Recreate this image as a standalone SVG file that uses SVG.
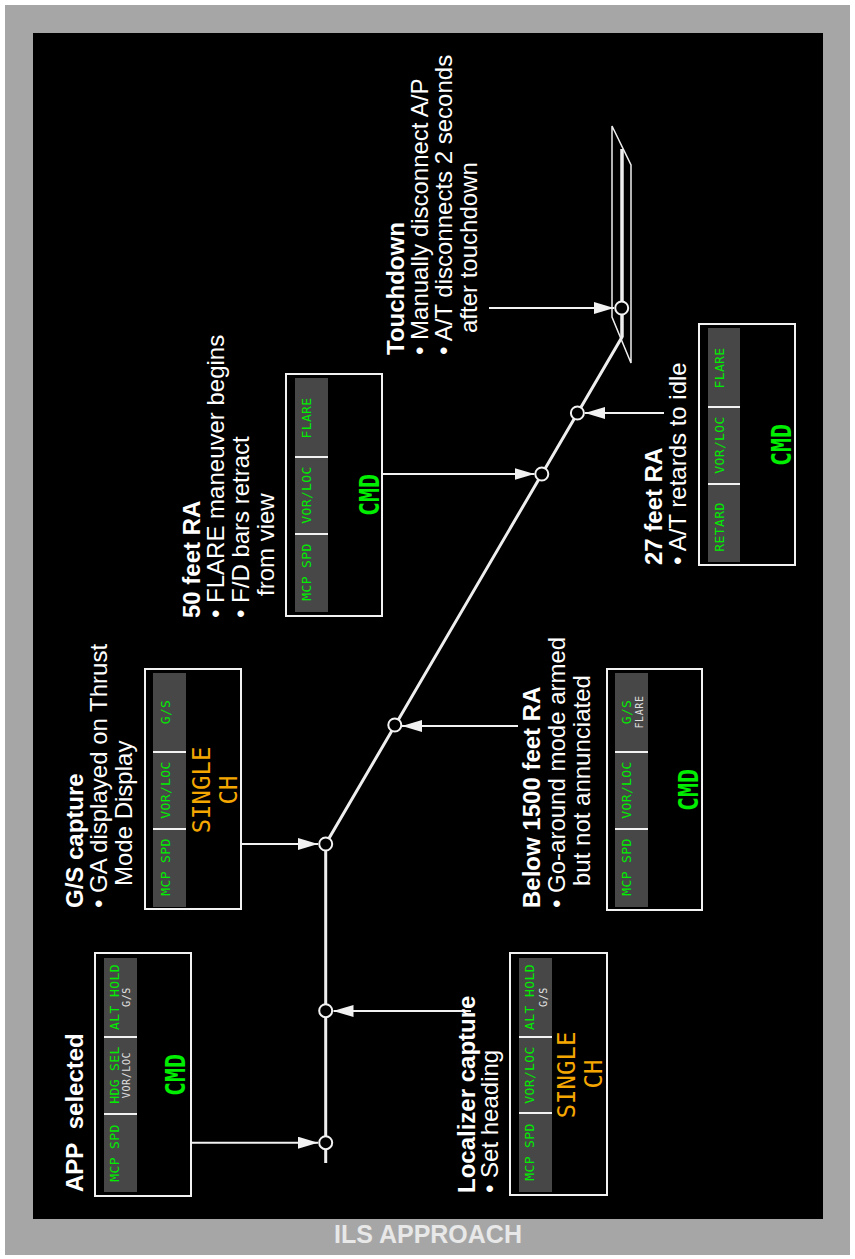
<svg xmlns="http://www.w3.org/2000/svg" width="855" height="1259" viewBox="0 0 855 1259">
<style>
.lbl{font-family:"Liberation Sans",Arial,sans-serif;font-size:24px;fill:#ffffff}
.b{font-weight:bold}
.box{fill:#000;stroke:#f2f2f2;stroke-width:2}
.pnl{fill:#474747}
.dv{stroke:#f2f2f2;stroke-width:2}
.g{font-family:"DejaVu Sans Mono",monospace;font-size:13px;fill:#00ee00;text-anchor:middle;letter-spacing:0.4px}
.w{font-family:"DejaVu Sans Mono",monospace;font-size:10px;fill:#e0e0e0;text-anchor:middle;letter-spacing:0.6px}
.cmd{font-family:"DejaVu Sans Mono",monospace;font-weight:bold;font-size:27px;fill:#00ee00;text-anchor:middle}
.sg{font-family:"DejaVu Sans Mono",monospace;font-size:24px;fill:#f5a700;text-anchor:middle}
.conn{stroke:#f2f2f2;stroke-width:2;fill:none}
.path{stroke:#eeeeee;stroke-width:3;fill:none}
.node{fill:#000;stroke:#f2f2f2;stroke-width:2}
</style>
<defs>
<marker id="ah" markerUnits="userSpaceOnUse" markerWidth="20" markerHeight="12" refX="20" refY="6" orient="auto">
<path d="M0,0 L20,6 L0,12 z" fill="#f2f2f2"/>
</marker>
</defs>
<rect x="0" y="0" width="855" height="1259" fill="#ffffff"/>
<rect x="5" y="5" width="845" height="1250" fill="#a6a6a6"/>
<rect x="33" y="33" width="790" height="1186" fill="#000000"/>
<text x="428" y="1243" font-family="'Liberation Sans',Arial,sans-serif" font-size="25" font-weight="bold" fill="#e8e8e8" text-anchor="middle">ILS APPROACH</text>

<g id="connectors">
<polyline class="path" points="325.7,1163 325.7,844 622,337 622,149"/>
<polygon points="612,126 631,165 631,363 612,317" fill="none" stroke="#eeeeee" stroke-width="1.5"/>
<line class="path" x1="622" y1="337" x2="622" y2="149" stroke-width="3.5"/>
<line class="conn" x1="191" y1="1142.7" x2="318" y2="1142.7" marker-end="url(#ah)"/>
<line class="conn" x1="471" y1="1011" x2="333.5" y2="1011" marker-end="url(#ah)"/>
<line class="conn" x1="241" y1="844" x2="318" y2="844" marker-end="url(#ah)"/>
<line class="conn" x1="518" y1="726" x2="402" y2="726" marker-end="url(#ah)"/>
<line class="conn" x1="382" y1="474" x2="534.5" y2="474" marker-end="url(#ah)"/>
<line class="conn" x1="664" y1="413" x2="585" y2="413" marker-end="url(#ah)"/>
<line class="conn" x1="489" y1="308" x2="614" y2="308" marker-end="url(#ah)"/>
</g>

<g id="points">
<circle class="node" cx="325.7" cy="1142.7" r="6.5"/>
<circle class="node" cx="325.7" cy="1010.7" r="6.5"/>
<circle class="node" cx="325.7" cy="844" r="6.5"/>
<circle class="node" cx="394.8" cy="725" r="6.5"/>
<circle class="node" cx="541.8" cy="474" r="6.5"/>
<circle class="node" cx="577.4" cy="413" r="6.5"/>
<circle class="node" cx="621.7" cy="308" r="6.5"/>
</g>

<g id="app-selected">
<text class="lbl b" transform="translate(83,1192) rotate(-90)">APP&#160; selected</text>
<rect class="box" x="95" y="953" width="96" height="243"/>
<rect class="pnl" x="104" y="958" width="33" height="234"/>
<line class="dv" x1="104" y1="1037" x2="137" y2="1037"/>
<line class="dv" x1="104" y1="1114" x2="137" y2="1114"/>
<text class="g" transform="translate(119,1153) rotate(-90)">MCP SPD</text>
<text class="g" transform="translate(119,1075) rotate(-90)">HDG SEL</text>
<text class="w" transform="translate(130,1075) rotate(-90)">VOR/LOC</text>
<text class="g" transform="translate(119,997) rotate(-90)">ALT HOLD</text>
<text class="w" transform="translate(130,997) rotate(-90)">G/S</text>
<text class="cmd" transform="translate(185,1075) rotate(-90)" textLength="42" lengthAdjust="spacingAndGlyphs">CMD</text>
</g>

<g id="localizer-capture">
<text class="lbl b" transform="translate(475,1193) rotate(-90)">Localizer capture</text>
<text class="lbl" transform="translate(498,1193) rotate(-90)">• Set heading</text>
<rect class="box" x="510" y="953" width="97" height="242"/>
<rect class="pnl" x="519" y="958" width="33" height="234"/>
<line class="dv" x1="519" y1="1037" x2="552" y2="1037"/>
<line class="dv" x1="519" y1="1113" x2="552" y2="1113"/>
<text class="g" transform="translate(534,1152) rotate(-90)">MCP SPD</text>
<text class="g" transform="translate(534,1075) rotate(-90)">VOR/LOC</text>
<text class="g" transform="translate(534,997) rotate(-90)">ALT HOLD</text>
<text class="w" transform="translate(546.5,997) rotate(-90)">G/S</text>
<text class="sg" transform="translate(575,1075) rotate(-90)">SINGLE</text>
<text class="sg" transform="translate(601.5,1074) rotate(-90)">CH</text>
</g>

<g id="gs-capture">
<text class="lbl b" transform="translate(83,908) rotate(-90)">G/S capture</text>
<text class="lbl" transform="translate(107,908) rotate(-90)">• GA displayed on Thrust</text>
<text class="lbl" transform="translate(132,886) rotate(-90)">Mode Display</text>
<rect class="box" x="145" y="669" width="96" height="240"/>
<rect class="pnl" x="153" y="673" width="33" height="234"/>
<line class="dv" x1="153" y1="752" x2="186" y2="752"/>
<line class="dv" x1="153" y1="829" x2="186" y2="829"/>
<text class="g" transform="translate(170,867) rotate(-90)">MCP SPD</text>
<text class="g" transform="translate(170,790) rotate(-90)">VOR/LOC</text>
<text class="g" transform="translate(170,712) rotate(-90)">G/S</text>
<text class="sg" transform="translate(210,790) rotate(-90)">SINGLE</text>
<text class="sg" transform="translate(237,790) rotate(-90)">CH</text>
</g>

<g id="below-1500">
<text class="lbl b" transform="translate(540,908) rotate(-90)">Below 1500 feet RA</text>
<text class="lbl" transform="translate(565,908) rotate(-90)">• Go-around mode armed</text>
<text class="lbl" transform="translate(590,886) rotate(-90)">but not annunciated</text>
<rect class="box" x="607" y="669" width="95" height="241"/>
<rect class="pnl" x="615" y="673" width="33" height="234"/>
<line class="dv" x1="615" y1="752" x2="648" y2="752"/>
<line class="dv" x1="615" y1="829" x2="648" y2="829"/>
<text class="g" transform="translate(630.5,867) rotate(-90)">MCP SPD</text>
<text class="g" transform="translate(630.5,790) rotate(-90)">VOR/LOC</text>
<text class="g" transform="translate(630.5,712) rotate(-90)">G/S</text>
<text class="w" transform="translate(643,712) rotate(-90)">FLARE</text>
<text class="cmd" transform="translate(698,790) rotate(-90)" textLength="42" lengthAdjust="spacingAndGlyphs">CMD</text>
</g>

<g id="fifty-feet">
<text class="lbl b" transform="translate(200,618) rotate(-90)">50 feet RA</text>
<text class="lbl" transform="translate(224,618) rotate(-90)">• FLARE maneuver begins</text>
<text class="lbl" transform="translate(249,618) rotate(-90)">• F/D bars retract</text>
<text class="lbl" transform="translate(274,596) rotate(-90)">from view</text>
<rect class="box" x="286" y="374" width="96" height="242"/>
<rect class="pnl" x="295" y="378" width="33" height="234"/>
<line class="dv" x1="295" y1="457" x2="328" y2="457"/>
<line class="dv" x1="295" y1="534" x2="328" y2="534"/>
<text class="g" transform="translate(310.5,572) rotate(-90)">MCP SPD</text>
<text class="g" transform="translate(310.5,495) rotate(-90)">VOR/LOC</text>
<text class="g" transform="translate(310.5,418) rotate(-90)">FLARE</text>
<text class="cmd" transform="translate(379,495) rotate(-90)" textLength="42" lengthAdjust="spacingAndGlyphs">CMD</text>
</g>

<g id="twenty-seven-feet">
<text class="lbl b" transform="translate(662,565) rotate(-90)">27 feet RA</text>
<text class="lbl" transform="translate(686,565) rotate(-90)">• A/T retards to idle</text>
<rect class="box" x="699" y="324" width="96" height="241"/>
<rect class="pnl" x="708" y="328" width="32" height="234"/>
<line class="dv" x1="708" y1="407" x2="740" y2="407"/>
<line class="dv" x1="708" y1="484" x2="740" y2="484"/>
<text class="g" transform="translate(724,527) rotate(-90)">RETARD</text>
<text class="g" transform="translate(724,445) rotate(-90)">VOR/LOC</text>
<text class="g" transform="translate(724,368) rotate(-90)">FLARE</text>
<text class="cmd" transform="translate(791,445) rotate(-90)" textLength="42" lengthAdjust="spacingAndGlyphs">CMD</text>
</g>

<g id="touchdown">
<text class="lbl b" transform="translate(404,355) rotate(-90)">Touchdown</text>
<text class="lbl" transform="translate(428,355) rotate(-90)">• Manually disconnect A/P</text>
<text class="lbl" transform="translate(452,355) rotate(-90)">• A/T disconnects 2 seconds</text>
<text class="lbl" transform="translate(477,333) rotate(-90)">after touchdown</text>
</g>
</svg>
